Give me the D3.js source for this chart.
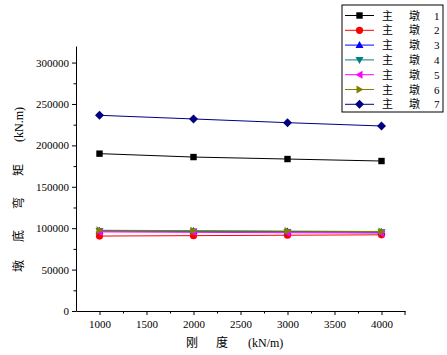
<!DOCTYPE html>
<html><head><meta charset="utf-8">
<script src="https://cdn.jsdelivr.net/npm/d3@7"></script>
<style>body{margin:0;background:#fff}svg{display:block}.tick text{font-family:'Liberation Serif','DejaVu Serif',serif !important;font-size:11px}</style>
</head><body><svg id="c" width="447" height="355"></svg>
<script>
const stiffness = [1000, 2000, 3000, 4000];
const seriesNames = ["主　墩　1","主　墩　2","主　墩　3","主　墩　4","主　墩　5","主　墩　6","主　墩　7"];
const pier1 = [190000, 185900, 183500, 181100];
const pier2 = [90500, 91000, 91500, 92000];
const pier3 = [97000, 96500, 96000, 95500];
const pier4 = [96500, 96000, 95500, 95000];
const pier5 = [95500, 95000, 94500, 94000];
const pier6 = [97500, 97000, 96500, 96000];
const pier7 = [236300, 231900, 227400, 223400];
const xTicks = [1000, 1500, 2000, 2500, 3000, 3500, 4000];
const yTicks = [0, 50000, 100000, 150000, 200000, 250000, 300000];
const colors = ["#000000","#ff0000","#0000ff","#008080","#ff00ff","#808000","#000080"];
const symbols = ["square","circle","triUp","triDown","triLeft","triRight","diamond"];
const allSeries = [pier1,pier2,pier3,pier4,pier5,pier6,pier7];

const svg = d3.select("#c");
const x = d3.scaleLinear().domain([750, 4250]).range([76, 405]);
const y = d3.scaleLinear().domain([0, 320000]).range([311, 46]);
const serif = "'Liberation Serif','DejaVu Serif',serif";
const cjk = "'Noto Sans CJK SC',sans-serif";

// axes
const xAxis = svg.append("g").attr("transform","translate(0,311)")
  .call(d3.axisBottom(x).tickValues(xTicks).tickSize(4).tickSizeOuter(0).tickFormat(d3.format("d")));
svg.append("g").attr("transform","translate(0,311)")
  .call(d3.axisBottom(x).tickValues(d3.range(1250,4250,500)).tickSize(2.5).tickFormat("")).select(".domain").remove();
xAxis.attr("font-family",serif);
xAxis.selectAll("text").attr("font-family",serif).attr("font-size",11).attr("dy","0.9em").attr("fill","#000");
svg.append("line").attr("x1",x(4250)).attr("x2",x(4250)).attr("y1",311).attr("y2",315).attr("stroke","#000");

const yAxis = svg.append("g").attr("transform","translate(76,0)")
  .call(d3.axisLeft(y).tickValues(yTicks).tickSize(4).tickSizeOuter(0).tickFormat(d3.format("d")));
svg.append("g").attr("transform","translate(76,0)")
  .call(d3.axisLeft(y).tickValues(d3.range(25000,320000,50000)).tickSize(2.5).tickFormat("")).select(".domain").remove();
yAxis.attr("font-family",serif);
yAxis.selectAll("text").attr("font-family",serif).attr("font-size",11).attr("fill","#000");
svg.selectAll(".domain, .tick line").attr("stroke","#000");

// symbols
function sym(g, type, cx, cy, color){
  let p;
  if(type==="square") return g.append("rect").attr("x",cx-3.2).attr("y",cy-3.2).attr("width",6.4).attr("height",6.4).attr("fill",color);
  if(type==="circle") return g.append("circle").attr("cx",cx).attr("cy",cy).attr("r",3.6).attr("fill",color);
  if(type==="triUp") p=[[cx,cy-4],[cx+4,cy+3],[cx-4,cy+3]];
  if(type==="triDown") p=[[cx,cy+4],[cx+4,cy-3],[cx-4,cy-3]];
  if(type==="triLeft") p=[[cx-4,cy],[cx+3,cy-4],[cx+3,cy+4]];
  if(type==="triRight") p=[[cx+4,cy],[cx-3,cy-4],[cx-3,cy+4]];
  if(type==="diamond") p=[[cx,cy-4.5],[cx+4.5,cy],[cx,cy+4.5],[cx-4.5,cy]];
  return g.append("polygon").attr("points",p.map(d=>d.join(",")).join(" ")).attr("fill",color);
}

const line = d3.line().x((d,i)=>x(stiffness[i])).y(d=>y(d));
allSeries.forEach((vals,k)=>{
  const g = svg.append("g");
  g.append("path").attr("d",line(vals)).attr("fill","none").attr("stroke",colors[k]).attr("stroke-width",1);
  vals.forEach((v,i)=>sym(g,symbols[k],x(stiffness[i]),y(v),colors[k]));
});

// legend
const lg = svg.append("g");
lg.append("rect").attr("x",342).attr("y",5).attr("width",101).attr("height",107).attr("fill","#fff").attr("stroke","#000").attr("stroke-width",1);
seriesNames.forEach((n,k)=>{
  const yy = 15.5 + k*14.8;
  lg.append("line").attr("x1",345).attr("x2",374).attr("y1",yy).attr("y2",yy).attr("stroke",colors[k]);
  sym(lg,symbols[k],359.5,yy,colors[k]);
  const parts = n.split("　");
  lg.append("text").attr("x",382).attr("y",yy+4).attr("font-family",cjk).attr("font-size",11).attr("fill","#000").text(parts[0]);
  lg.append("text").attr("x",409).attr("y",yy+4).attr("font-family",cjk).attr("font-size",11).attr("fill","#000").text(parts[1]);
  lg.append("text").attr("x",434).attr("y",yy+4).attr("font-family",serif).attr("font-size",11).attr("fill","#000").text(parts[2]);
});

// axis titles
const xt = svg.append("text").attr("y",347).attr("font-size",12).attr("fill","#000");
xt.append("tspan").attr("x",186).attr("font-family",cjk).text("刚");
xt.append("tspan").attr("x",216).attr("font-family",cjk).text("度");
xt.append("tspan").attr("x",248).attr("font-family",serif).text("(kN/m)");

const yt = svg.append("text").attr("transform","translate(23,0) rotate(-90)").attr("font-size",12).attr("fill","#000");
yt.append("tspan").attr("x",-272).attr("font-family",cjk).text("墩");
yt.append("tspan").attr("x",-242).attr("font-family",cjk).text("底");
yt.append("tspan").attr("x",-209).attr("font-family",cjk).text("弯");
yt.append("tspan").attr("x",-176).attr("font-family",cjk).text("矩");
yt.append("tspan").attr("x",-142).attr("font-family",serif).text("(kN.m)");
</script></body></html>
